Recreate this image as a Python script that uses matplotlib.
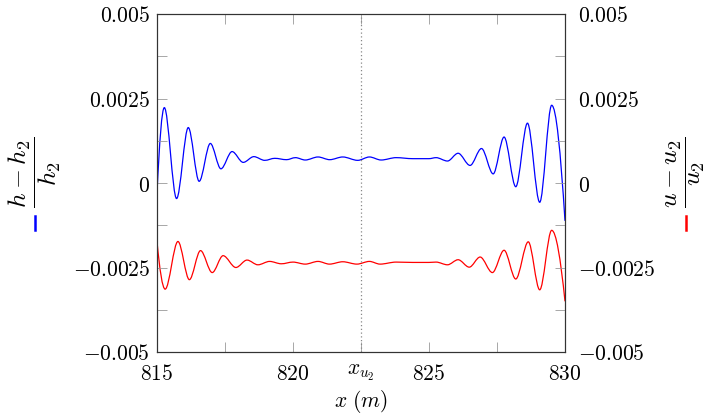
import matplotlib
matplotlib.use("Agg")
import matplotlib.pyplot as plt
from matplotlib.path import Path
from matplotlib.patches import PathPatch
from matplotlib.lines import Line2D
import matplotlib.transforms as mtransforms

plt.rcParams['mathtext.fontset'] = 'cm'
plt.rcParams['font.family'] = 'serif'
plt.rcParams['font.serif'] = ['DejaVu Serif']

# Local extrema (x in m, values x 1e-3)
h_x = [815.0, 815.27, 815.72, 816.15, 816.55, 816.96, 817.35, 817.76, 818.17, 818.56,
       818.96, 819.33, 819.76, 820.09, 820.45, 820.92, 821.35, 821.83, 822.38, 822.81,
       823.24, 823.79, 824.4, 825.0, 825.26, 825.68, 826.07, 826.51, 826.93, 827.36,
       827.76, 828.19, 828.62, 829.07, 829.51, 830.0]
h_rel = [-0.3, 2.23, -0.46, 1.64, 0.05, 1.17, 0.42, 0.93, 0.61, 0.78,
         0.67, 0.73, 0.69, 0.75, 0.68, 0.77, 0.69, 0.77, 0.67, 0.77,
         0.68, 0.75, 0.72, 0.72, 0.75, 0.65, 0.88, 0.52, 1.02, 0.27,
         1.36, -0.11, 1.77, -0.57, 2.30, -1.12]

u_x = [815.0, 815.3, 815.77, 816.19, 816.6, 817.03, 817.43, 817.9, 818.31, 818.71,
       819.14, 819.57, 820.0, 820.45, 820.92, 821.34, 821.83, 822.35, 822.81, 823.2,
       823.79, 824.4, 825.0, 825.26, 825.68, 826.07, 826.48, 826.88, 827.33, 827.76,
       828.19, 828.65, 829.07, 829.51, 830.0]
u_rel = [-1.73, -3.14, -1.73, -2.86, -2.0, -2.65, -2.15, -2.5, -2.28, -2.42,
         -2.32, -2.39, -2.34, -2.40, -2.32, -2.40, -2.33, -2.40, -2.32, -2.40,
         -2.34, -2.35, -2.35, -2.34, -2.42, -2.27, -2.49, -2.19, -2.65, -1.99,
         -2.84, -1.74, -3.16, -1.40, -3.5]

x_u2 = 822.5
x_ticks = [815, 817.5, 820, 822.5, 825, 827.5, 830]
x_labels = ['$815$', '', '$820$', '', '$825$', '', '$830$']
y_ticks = [-0.005, -0.00375, -0.0025, -0.00125, 0, 0.00125, 0.0025, 0.00375, 0.005]
y_labels = ['$-0.005$', '', '$-0.0025$', '', '$0$', '', '$0.0025$', '', '$0.005$']


def smooth_path(xs, ys):
    # cubic pieces with flat tangents at the extrema
    ys = [v * 1e-3 for v in ys]
    verts = [(xs[0], ys[0])]
    codes = [Path.MOVETO]
    n = len(xs) - 1
    for i in range(n):
        x0, y0, x1, y1 = xs[i], ys[i], xs[i + 1], ys[i + 1]
        d = x1 - x0
        c1 = (x0 + d / 3, y0)
        c2 = (x1 - d / 3, y1)
        if i == 0:
            c1 = (x0 + d / 3, y0 + (y1 - y0) * 0.6)
        if i == n - 1:
            c2 = (x1 - d / 3, y1 - (y1 - y0) * 0.6)
        verts += [c1, c2, (x1, y1)]
        codes += [Path.CURVE4] * 3
    return Path(verts, codes)


fig = plt.figure(figsize=(7.2, 4.16), dpi=100)
ax = fig.add_axes([157 / 720, 64 / 416, 408 / 720, 338 / 416])
ax2 = ax.twinx()

ax.add_patch(PathPatch(smooth_path(h_x, h_rel), fill=False, edgecolor='#0000ff', lw=0.9))
ax.add_patch(PathPatch(smooth_path(u_x, u_rel), fill=False, edgecolor='#ff0000', lw=0.9))
ax.axvline(x_u2, color='#888888', ls=(0, (1, 2)), lw=0.9)

ax.set_xlim(815, 830)
for a in (ax, ax2):
    a.set_ylim(-0.005, 0.005)
    a.set_yticks(y_ticks)
    a.set_yticklabels(y_labels)
ax.set_xticks(x_ticks)
ax.set_xticklabels(x_labels)
ax.tick_params(direction='in', length=7, width=0.6, color='#999999', labelsize=15.5,
               top=True, right=False, pad=5)
ax.tick_params(axis='x', pad=8)
ax2.tick_params(direction='in', length=7, width=0.6, color='#999999', labelsize=15.5, pad=9)
for a in (ax, ax2):
    for s in a.spines.values():
        s.set_linewidth(0.8)
        s.set_color('#333333')

ax.set_xlabel(r'$x\ (m)$', fontsize=15.5, labelpad=2)
trans = mtransforms.blended_transform_factory(ax.transData, ax.transAxes)
ax.text(x_u2, -0.058, r'$x_{u_2}$', transform=trans, ha='center', va='center', fontsize=15.5)

# y labels with their legend marks
fig.text(35 / 720, 1 - 172 / 416, r'$\dfrac{h-h_2}{h_2}$', rotation=90,
         ha='center', va='center', fontsize=18.5)
fig.text(686 / 720, 1 - 172 / 416, r'$\dfrac{u-u_2}{u_2}$', rotation=90,
         ha='center', va='center', fontsize=18.5)
fig.add_artist(Line2D([35 / 720, 35 / 720], [1 - 216 / 416, 1 - 230 / 416],
                      color='#0000ff', lw=1.8, transform=fig.transFigure))
fig.add_artist(Line2D([686 / 720, 686 / 720], [1 - 216 / 416, 1 - 230 / 416],
                      color='#ff0000', lw=1.8, transform=fig.transFigure))

fig.savefig('out.png', dpi=100)
